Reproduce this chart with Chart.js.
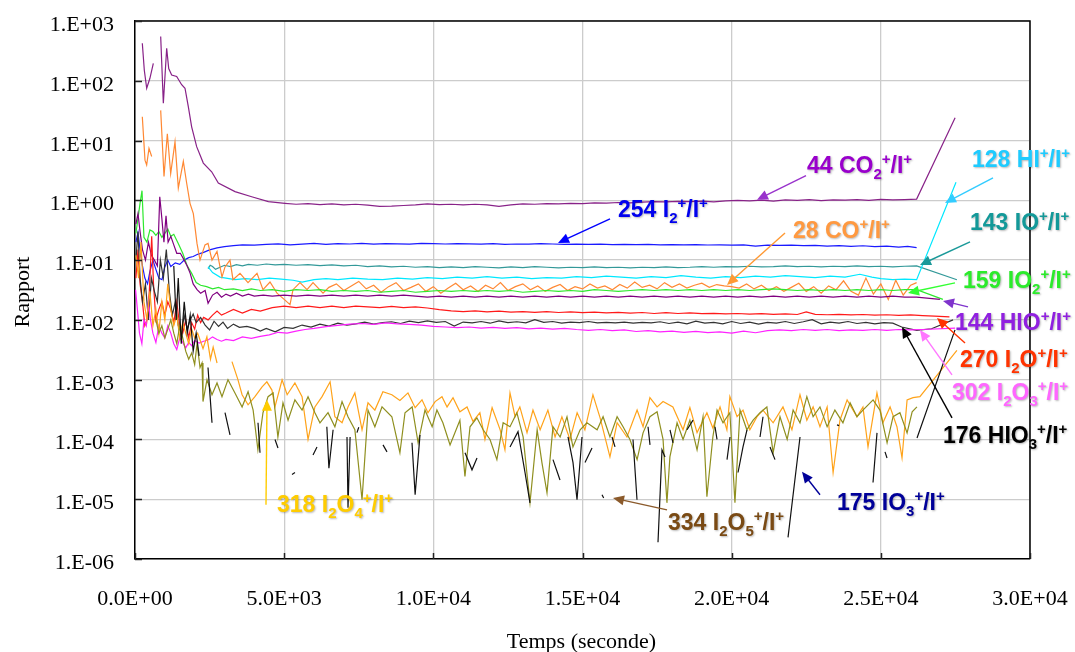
<!DOCTYPE html>
<html><head><meta charset="utf-8">
<script src="https://cdn.jsdelivr.net/npm/chart.js@4.4.1/dist/chart.umd.min.js"></script>
<style>html,body{margin:0;padding:0;background:#fff;overflow:hidden}</style>
</head><body>
<canvas id="c" width="1075" height="652"></canvas>
<script>
// ---------- axis ticks ----------
const xTicks = [0, 5000, 10000, 15000, 20000, 25000, 30000];
const xTickLabels = ['0.0E+00','5.0E+03','1.0E+04','1.5E+04','2.0E+04','2.5E+04','3.0E+04'];
const yTicks = [1e-6,1e-5,1e-4,1e-3,1e-2,1e-1,1,10,100,1000];
const yTickLabels = ['1.E-06','1.E-05','1.E-04','1.E-03','1.E-02','1.E-01','1.E+00','1.E+01','1.E+02','1.E+03'];
const xTitle = 'Temps (seconde)';
const yTitle = 'Rapport';

// ---------- series: [time (s), ratio] ----------
const co2 = [[245,424],[312,150],[392,75],[500,110],[614,196],[700,null],[861,550],[950,42],[1062,350],[1130,160],[1229,125],[1397,118],[1564,86],[1676,75],[1787,37],[1899,17],[2067,7.9],[2290,4.2],[2570,3.0],[2793,1.95],[3352,1.4],[3911,1.15],[4470,0.95],[5028,0.89],[5400,0.86],[5800,0.88],[6200,0.85],[6600,0.87],[7000,0.84],[7400,0.86],[7800,0.83],[8200,0.79],[8600,0.8],[9000,0.82],[9400,0.84],[9800,0.87],[10200,0.85],[10600,0.86],[11000,0.84],[11400,0.86],[11800,0.84],[12200,0.79],[12600,0.84],[13000,0.87],[13400,0.86],[13800,0.88],[14200,0.87],[14600,0.89],[15000,0.88],[15400,0.91],[15800,0.9],[16200,0.92],[16600,0.91],[17000,0.93],[17400,0.95],[17800,0.94],[18200,0.96],[18600,0.95],[19000,0.97],[19400,0.94],[19800,0.98],[20200,1.0],[20600,0.98],[21000,1.01],[21400,0.97],[21800,1.02],[22200,1.0],[22600,1.03],[23000,0.99],[23400,1.02],[23800,1.01],[24200,1.03],[24600,1.0],[25000,1.04],[25400,1.02],[25800,1.03],[26200,1.05],[27490,24]];

const i2 = [[30,0.2],[100,0.29],[170,0.15],[250,0.08],[330,0.05],[420,0.04],[500,0.065],[600,0.1],[700,0.07],[800,0.05],[905,0.047],[1000,0.077],[1100,0.1],[1200,0.078],[1350,0.09],[1500,0.085],[1650,0.1],[1800,0.11],[1950,0.115],[2100,0.125],[2300,0.135],[2500,0.148],[2750,0.16],[3000,0.168],[3300,0.175],[3600,0.18],[4000,0.178],[4400,0.183],[4800,0.187],[5200,0.18],[5600,0.185],[6000,0.19],[6400,0.184],[6800,0.188],[7200,0.186],[7600,0.19],[8000,0.185],[8400,0.189],[8800,0.187],[9200,0.185],[9600,0.19],[10000,0.188],[10400,0.186],[10800,0.189],[11200,0.187],[11600,0.185],[12000,0.188],[12400,0.184],[12800,0.186],[13200,0.185],[13600,0.188],[14000,0.186],[14400,0.184],[14800,0.185],[15200,0.183],[15600,0.185],[16000,0.182],[16400,0.184],[16800,0.181],[17200,0.183],[17600,0.18],[18000,0.182],[18400,0.18],[18800,0.181],[19200,0.179],[19600,0.18],[20000,0.178],[20400,0.18],[20800,0.172],[21200,0.178],[21600,0.176],[22000,0.178],[22400,0.175],[22800,0.177],[23200,0.172],[23600,0.175],[24000,0.17],[24400,0.174],[24800,0.168],[25200,0.172],[25600,0.165],[25900,0.17],[26200,0.162]];

const io = [[2450,0.072],[2520,0.082],[2600,0.078],[2700,0.07],[2850,0.076],[3000,0.082],[3200,0.078],[3400,0.084],[3600,0.08],[3800,0.085],[4100,0.082],[4400,0.086],[4700,0.083],[5000,0.085],[5400,0.082],[5800,0.084],[6200,0.081],[6600,0.083],[7000,0.08],[7400,0.082],[7800,0.078],[8200,0.08],[8600,0.077],[9000,0.079],[9400,0.076],[9800,0.078],[10200,0.075],[10600,0.077],[11000,0.075],[11400,0.078],[11800,0.076],[12200,0.074],[12600,0.077],[13000,0.075],[13400,0.078],[13800,0.076],[14200,0.074],[14600,0.076],[15000,0.075],[15400,0.077],[15800,0.075],[16200,0.076],[16600,0.074],[17000,0.076],[17400,0.075],[17800,0.077],[18200,0.075],[18600,0.076],[19000,0.078],[19400,0.076],[19800,0.078],[20200,0.077],[20600,0.079],[21000,0.077],[21400,0.078],[21800,0.08],[22200,0.078],[22600,0.079],[23000,0.077],[23400,0.079],[23800,0.078],[24200,0.08],[24600,0.078],[25000,0.079],[25400,0.077],[25800,0.079],[26200,0.08],[27550,0.047]];

const hi = [[2450,0.077],[2600,0.062],[2850,0.052],[3050,0.05],[3350,0.047],[3700,0.049],[4100,0.047],[4500,0.05],[4900,0.048],[5300,0.046],[5600,0.043],[6000,0.047],[6400,0.049],[6800,0.047],[7300,0.05],[7800,0.048],[8300,0.047],[8800,0.05],[9300,0.048],[9800,0.051],[10300,0.049],[10800,0.052],[11300,0.05],[11800,0.053],[12300,0.05],[12800,0.052],[13300,0.049],[13800,0.051],[14300,0.05],[14800,0.053],[15300,0.051],[15800,0.054],[16300,0.052],[16800,0.05],[17300,0.053],[17800,0.051],[18300,0.055],[18800,0.052],[19300,0.05],[19800,0.053],[20300,0.051],[20800,0.054],[21300,0.052],[21800,0.055],[22300,0.053],[22800,0.051],[23300,0.054],[23800,0.052],[24300,0.058],[24700,0.052],[25000,0.049],[25400,0.047],[25800,0.048],[26200,0.047],[27520,2.0]];

const io2 = [[30,0.28],[100,0.5],[170,0.9],[235,1.45],[300,0.24],[400,0.2],[500,0.32],[600,0.3],[700,0.26],[800,0.3],[900,0.24],[1000,0.28],[1100,0.33],[1200,0.25],[1300,0.27],[1450,0.19],[1600,0.13],[1750,0.08],[1900,0.06],[2050,0.042],[2200,0.038],[2400,0.036],[2600,0.033],[2800,0.035],[3000,0.032],[3300,0.033],[3600,0.031],[3900,0.033],[4200,0.031],[4600,0.032],[5000,0.03],[5400,0.032],[5800,0.031],[6200,0.032],[6600,0.03],[7000,0.031],[7400,0.03],[7800,0.031],[8200,0.029],[8600,0.03],[9000,0.031],[9400,0.029],[9800,0.03],[10200,0.031],[10600,0.03],[11000,0.031],[11400,0.03],[11800,0.031],[12200,0.03],[12600,0.031],[13000,0.029],[13400,0.03],[13800,0.031],[14200,0.03],[14600,0.031],[15000,0.03],[15400,0.032],[15800,0.031],[16200,0.03],[16600,0.031],[17000,0.032],[17400,0.031],[17800,0.032],[18200,0.031],[18600,0.032],[19000,0.031],[19400,0.032],[19800,0.031],[20200,0.032],[20600,0.031],[21000,0.032],[21400,0.033],[21800,0.032],[22200,0.031],[22600,0.032],[23000,0.031],[23400,0.032],[23800,0.031],[24200,0.032],[24600,0.031],[25000,0.032],[25400,0.031],[25800,0.032],[26200,0.032],[27080,0.022]];

const hio = [[30,0.4],[100,0.6],[170,0.3],[250,0.15],[350,0.1],[450,0.2],[550,0.12],[650,0.1],[750,0.08],[830,1.15],[900,0.5],[970,0.2],[1040,0.55],[1110,0.2],[1200,0.25],[1300,0.18],[1400,0.13],[1520,0.13],[1650,0.1],[1750,0.08],[1850,0.06],[1950,0.04],[2080,0.032],[2200,0.028],[2350,0.031],[2450,0.019],[2600,0.026],[2750,0.029],[2900,0.024],[3050,0.027],[3200,0.025],[3400,0.028],[3600,0.025],[3800,0.027],[4000,0.025],[4300,0.026],[4600,0.025],[5000,0.026],[5400,0.025],[5800,0.026],[6200,0.025],[6600,0.026],[7000,0.025],[7400,0.026],[7800,0.025],[8200,0.026],[8600,0.025],[9000,0.026],[9400,0.025],[9800,0.024],[10200,0.025],[10600,0.024],[11000,0.025],[11400,0.024],[11800,0.025],[12200,0.024],[12600,0.025],[13000,0.024],[13400,0.025],[13800,0.024],[14200,0.025],[14600,0.024],[15000,0.025],[15400,0.024],[15800,0.025],[16200,0.024],[16600,0.025],[17000,0.024],[17400,0.025],[17800,0.024],[18200,0.025],[18600,0.024],[19000,0.025],[19400,0.024],[19800,0.025],[20200,0.024],[20600,0.025],[21000,0.024],[21400,0.025],[21800,0.024],[22200,0.025],[22600,0.024],[23000,0.025],[23400,0.024],[23800,0.025],[24200,0.024],[24600,0.025],[25000,0.024],[25400,0.025],[25800,0.024],[26200,0.024],[26980,0.022]];

const i2o = [[30,0.05],[100,0.15],[170,0.04],[250,0.02],[330,0.008],[400,0.01],[480,0.03],[560,0.25],[620,0.04],[700,0.01],[800,0.015],[900,0.02],[1000,0.012],[1100,0.02],[1200,0.015],[1300,0.009],[1400,0.02],[1500,0.008],[1600,0.006],[1700,0.01],[1800,0.005],[1900,0.009],[2000,0.007],[2100,0.012],[2200,0.009],[2300,0.011],[2450,0.01],[2600,0.012],[2750,0.014],[2900,0.012],[3050,0.013],[3300,0.015],[3600,0.013],[3900,0.015],[4200,0.014],[4600,0.016],[5000,0.017],[5400,0.016],[5800,0.017],[6200,0.016],[6600,0.017],[7000,0.016],[7400,0.017],[7800,0.0165],[8200,0.016],[8600,0.0168],[9000,0.016],[9400,0.0165],[9800,0.0158],[10200,0.0148],[10600,0.0142],[11000,0.0138],[11400,0.0142],[11800,0.0136],[12200,0.014],[12600,0.0135],[13000,0.0138],[13400,0.0134],[13800,0.0137],[14200,0.0133],[14600,0.0136],[15000,0.0132],[15400,0.0135],[15800,0.0131],[16200,0.0134],[16600,0.013],[17000,0.0133],[17400,0.0128],[17800,0.0132],[18200,0.0128],[18600,0.0131],[19000,0.0127],[19400,0.0129],[19800,0.0126],[20200,0.0128],[20600,0.0125],[21000,0.0127],[21400,0.0124],[21800,0.0126],[22200,0.0123],[22500,0.0136],[22800,0.0124],[23200,0.0122],[23600,0.0124],[24000,0.0121],[24400,0.0123],[24800,0.012],[25200,0.0122],[25600,0.0119],[26000,0.0121],[26400,0.0118],[26800,0.0116],[27300,0.0112]];

const hio3 = [[30,0.1],[100,0.3],[170,0.05],[250,0.02],[350,0.04],[450,0.01],[550,0.05],[650,0.03],[750,0.02],[850,0.1],[950,0.05],[1050,0.15],[1150,0.03],[1250,0.012],[1350,0.02],[1450,0.008],[1550,0.006],[1650,0.012],[1750,0.007],[1850,0.01],[1950,0.0125],[2050,0.009],[2200,0.011],[2350,0.0082],[2500,0.0068],[2650,0.0095],[2800,0.0078],[2950,0.0092],[3100,0.0072],[3300,0.0085],[3500,0.0075],[3750,0.0078],[4000,0.0072],[4200,0.0065],[4400,0.0072],[4700,0.0063],[5000,0.0075],[5300,0.0072],[5600,0.0082],[5900,0.0076],[6200,0.0085],[6500,0.0079],[6800,0.0088],[7100,0.0082],[7400,0.0086],[7700,0.0092],[8000,0.0085],[8300,0.009],[8600,0.0093],[8900,0.0087],[9200,0.0095],[9500,0.009],[9800,0.0096],[10100,0.0091],[10400,0.0094],[10700,0.0079],[11000,0.0092],[11300,0.0089],[11600,0.0094],[11900,0.0088],[12200,0.0096],[12500,0.009],[12800,0.0093],[13100,0.0089],[13400,0.0101],[13700,0.0091],[14000,0.0094],[14300,0.0088],[14600,0.0092],[14900,0.009],[15200,0.0094],[15500,0.0089],[15800,0.0091],[16100,0.0089],[16400,0.0092],[16700,0.0088],[17000,0.0091],[17300,0.0089],[17600,0.0093],[17900,0.0087],[18200,0.0092],[18500,0.0086],[18800,0.0095],[19100,0.0088],[19400,0.0091],[19700,0.0086],[20000,0.0094],[20300,0.0087],[20600,0.0092],[20900,0.0085],[21200,0.0091],[21500,0.0088],[21800,0.0094],[22100,0.0087],[22400,0.0093],[22700,0.0101],[23000,0.0086],[23300,0.0092],[23600,0.0088],[23900,0.0094],[24200,0.0087],[24500,0.0091],[24800,0.0086],[25100,0.009],[25400,0.0088],[25700,0.0076],[26200,0.0067],[26700,0.0071],[27420,0.01]];

const i2o3 = [[20,0.032],[80,0.015],[150,0.006],[230,0.004],[300,0.01],[380,0.008],[450,0.02],[520,0.01],[600,0.006],[700,0.0042],[800,0.008],[900,0.006],[1000,0.005],[1100,0.008],[1200,0.006],[1300,0.004],[1400,0.0032],[1500,0.005],[1600,0.0042],[1700,0.0034],[1800,0.0042],[1900,0.0037],[2000,0.0045],[2150,0.0041],[2300,0.0044],[2450,0.0046],[2600,0.0052],[2750,0.0047],[2900,0.0044],[3050,0.0047],[3300,0.0045],[3600,0.0052],[3900,0.0049],[4200,0.0053],[4500,0.0056],[4800,0.0062],[5100,0.006],[5400,0.0065],[5700,0.0069],[6000,0.0072],[6400,0.0077],[6800,0.0081],[7200,0.0085],[7600,0.0087],[8000,0.0084],[8400,0.0089],[8800,0.0086],[9200,0.0084],[9600,0.0082],[10000,0.0078],[10400,0.0076],[10800,0.0074],[11200,0.0076],[11600,0.0073],[12000,0.0075],[12400,0.0072],[12800,0.0074],[13200,0.0071],[13600,0.0073],[14000,0.007],[14400,0.0072],[14800,0.0069],[15200,0.0067],[15600,0.0069],[16000,0.0066],[16400,0.0068],[16800,0.0064],[17200,0.0066],[17600,0.0063],[18000,0.0065],[18400,0.0062],[18800,0.0064],[19200,0.0061],[19600,0.0063],[20000,0.006],[20400,0.0065],[20800,0.0061],[21200,0.0066],[21600,0.0068],[22000,0.0066],[22400,0.0069],[22800,0.0067],[23200,0.0069],[23600,0.0066],[24000,0.0068],[24400,0.0067],[24800,0.0069],[25200,0.0067],[25600,0.0069],[26000,0.0068],[26400,0.0069],[27490,0.0073]];

const co = [[245,25],[335,4.7],[391,3.9],[469,7.4],[559,5.4],[700,null],[861,32],[972,2.5],[1084,13],[1196,2.8],[1341,9.5],[1452,1.6],[1620,4.5],[1731,1.95],[1844,0.89],[1955,0.6],[2078,0.19],[2179,0.1],[2346,0.18],[2447,0.19],[2581,0.1],[2749,0.14],[2916,0.052],[3017,0.077],[3184,0.1],[3285,0.047],[3520,0.06],[3788,0.042],[4090,0.06],[4291,0.032],[4525,0.043],[4760,0.028],[5000,0.022],[5196,0.018],[5296,0.032],[5531,0.042],[5766,0.032],[5967,0.042],[6302,0.028],[6500,0.035],[6750,0.04],[7000,0.031],[7250,0.037],[7500,0.044],[7750,0.033],[8000,0.038],[8250,0.029],[8500,0.036],[8750,0.042],[9000,0.031],[9250,0.035],[9500,0.04],[9750,0.03],[10000,0.036],[10250,0.028],[10500,0.034],[10750,0.041],[11000,0.032],[11250,0.037],[11500,0.03],[11750,0.038],[12000,0.033],[12250,0.042],[12500,0.031],[12750,0.036],[13000,0.04],[13250,0.032],[13500,0.037],[13750,0.03],[14000,0.035],[14250,0.039],[14500,0.031],[14750,0.036],[15000,0.033],[15250,0.04],[15500,0.034],[15750,0.037],[16000,0.032],[16250,0.039],[16500,0.034],[16750,0.043],[17000,0.035],[17250,0.038],[17500,0.033],[17750,0.042],[18000,0.035],[18250,0.04],[18500,0.034],[18750,0.038],[19000,0.041],[19250,0.035],[19500,0.039],[19750,0.037],[20000,0.036],[20250,0.034],[20500,0.04],[20750,0.033],[21000,0.038],[21250,0.031],[21500,0.036],[21750,0.03],[22000,0.035],[22250,0.041],[22500,0.03],[22750,0.036],[23000,0.028],[23250,0.037],[23500,0.032],[23750,0.045],[24000,0.03],[24250,0.026],[24500,0.05],[24750,0.027],[25000,0.04],[25250,0.022],[25500,0.046],[25750,0.026],[26000,0.038],[26200,0.042]];

const i2o4 = [[30,0.12],[120,0.05],[200,0.2],[300,0.02],[400,0.01],[500,0.03],[600,0.008],[700,0.015],[800,0.006],[900,0.02],[1000,0.01],[1100,0.04],[1200,0.015],[1300,0.008],[1400,0.012],[1500,0.005],[1600,0.009],[1700,0.006],[1800,0.004],[1900,0.007],[2000,0.005],[2100,0.006],[2180,0.0046],[2280,0.0033],[2410,0.0052],[2530,0.0022],[2620,0.0035],[2750,0.0019],[2850,null],[3250,0.002],[3450,0.001],[3590,0.00056],[3790,0.00038],[4020,0.00052],[4260,0.00076],[4420,0.00092],[4590,0.00067],[4690,0.00035],[4930,0.00099],[5100,0.00056],[5360,0.00088],[5600,0.00052],[5800,0.0001],[6030,0.00035],[6270,0.00052],[6540,0.00092],[6700,0.00024],[6940,0.00019],[7140,0.00035],[7370,0.0006],[7610,0.000145],[7810,0.00041],[8040,0.00031],[8310,0.00063],[8610,0.00056],[8880,0.00045],[9150,0.0006],[9390,0.00034],[9620,0.00046],[9820,0.00028],[10060,0.00043],[10290,0.00052],[10460,0.00035],[10660,0.0005],[10890,0.00029],[11130,0.00035],[11330,0.0002],[11560,0.00028],[11730,0.0001],[11970,0.00034],[12240,0.000145],[12400,0.000067],[12570,0.0006],[12740,0.00024],[12900,0.00035],[13140,0.00013],[13340,0.00031],[13580,0.000145],[13840,0.00031],[14080,0.00011],[14310,0.00024],[14580,0.0001],[14820,0.00028],[15080,0.000145],[15350,0.00056],[15590,0.00023],[15920,0.000051],[16160,0.00019],[16490,0.00011],[16830,0.00031],[17030,0.000163],[17260,0.0005],[17500,0.00035],[17700,0.00043],[18030,0.00035],[18370,0.000145],[18600,0.00034],[18840,0.00013],[19170,0.00028],[19370,0.000156],[19610,0.00035],[19840,0.000145],[19940,0.00052],[20180,0.00024],[20380,0.00031],[20610,0.000145],[20850,0.00024],[21050,0.00031],[21390,0.00019],[21720,0.00035],[22020,0.000145],[22290,0.00056],[22520,0.00021],[22730,0.00035],[22960,0.000163],[23200,0.00035],[23400,0.000028],[23630,0.00021],[23870,0.00046],[24200,0.00024],[24400,0.00035],[24570,0.000075],[24870,0.0006],[25070,0.00019],[25310,0.00035],[25540,0.000163],[25710,0.000049],[25880,0.00046],[26080,0.0005],[26310,0.00052],[27550,0.0031]];

const i2o5 = [[700,0.01],[800,0.006],[900,0.008],[1000,0.005],[1100,0.007],[1200,0.01],[1300,0.006],[1400,0.004],[1500,0.008],[1600,0.005],[1700,0.003],[1800,0.0022],[1900,0.0028],[2000,0.0018],[2080,0.004],[2180,0.0016],[2246,0.0019],[2279,0.00043],[2413,0.001],[2581,0.00056],[2749,0.00088],[2916,0.00052],[3117,0.001],[3350,0.0006],[3590,0.00035],[3790,0.00063],[3960,0.00031],[4120,0.000067],[4290,0.00028],[4460,0.00052],[4630,0.0006],[4790,0.00011],[4960,0.00041],[5130,0.00021],[5360,0.00046],[5600,0.00031],[5800,0.00052],[6030,0.00028],[6200,0.00019],[6470,0.00028],[6700,0.000163],[6940,0.00043],[7140,0.00024],[7370,0.000145],[7610,0.0000098],[7810,0.00031],[8040,0.000163],[8280,0.00035],[8610,0.00024],[8880,0.00006],[9050,0.00028],[9290,0.00035],[9490,0.000088],[9720,0.00031],[9960,0.000163],[10120,0.00031],[10320,0.00019],[10560,0.000081],[10890,0.00021],[11060,0.000024],[11230,0.000163],[11460,0.00023],[11670,0.000145],[11900,0.0001],[12130,0.000046],[12340,0.00019],[12570,0.000163],[12800,0.00028],[13010,0.00011],[13240,0.0000087],[13480,0.000145],[13640,0.000041],[13810,0.0000128],[14010,0.000163],[14250,0.00011],[14480,0.00024],[14680,0.000075],[14920,0.000145],[15150,0.00019],[15490,0.000145],[15690,0.00024],[15920,0.00011],[16160,0.00024],[16360,0.000163],[16590,0.0001],[16830,0.000046],[17030,0.000129],[17260,0.00024],[17500,0.00029],[17700,0.0001],[17830,0.0000087],[17930,0.000051],[18170,0.00019],[18370,0.0001],[18600,0.00021],[18840,0.000067],[19040,0.00024],[19170,0.000011],[19370,0.00011],[19510,0.00031],[19710,0.00019],[19940,0.00028],[20110,0.0000087],[20280,0.00031],[20510,0.000145],[20720,0.00021],[20950,0.00028],[21180,0.00035],[21390,0.00006],[21620,0.00024],[21860,0.0001],[22060,0.00031],[22290,0.00019],[22520,0.00052],[22730,0.00024],[22960,0.00035],[23200,0.000163],[23460,0.00031],[23730,0.00019],[23970,0.00041],[24200,0.00024],[24400,0.00031],[24740,0.00046],[24970,0.00031],[25210,0.000088],[25410,0.00024],[25640,0.00028],[25880,0.000129],[26050,0.00029],[26210,0.00035]];

const io3 = [[1300,0.08],[1380,0.01],[1450,0.05],[1550,0.004],[1650,0.02],[1750,0.006],[1850,0.012],[1950,0.003],[2050,0.006],[2150,0.0025],[2300,null],
[2447,0.0016],[2581,0.00019],[2800,null],
[3017,0.00028],[3184,0.000119],[3600,null],
[4123,0.00019],[4190,0.00006],[4400,null],
[4693,0.0001],[4793,0.000072],[5000,null],
[5263,0.000026],[5363,0.000028],[5600,null],
[5967,0.000055],[6100,0.000075],[6300,null],
[6430,0.000163],[6500,0.000033],[6640,0.000145],[6900,null],
[7106,0.00011],[7140,0.0000072],[7210,0.00011],[7300,null],
[7440,0.00013],[7500,0.00016],[7900,null],
[8313,0.000081],[8447,0.000062],[9000,null],
[9285,0.000088],[9390,0.0000119],[9553,0.000119],[10500,null],
[11062,0.00006],[11296,0.000031],[11464,0.000049],[12000,null],
[12570,0.000075],[12838,0.000135],[13073,0.000028],[13240,0.0000087],[13600,null],
[14011,0.000046],[14246,0.000021],[14400,null],
[14514,0.00011],[14682,0.000041],[14816,0.0000098],[14983,0.00011],[15030,null],
[15084,0.000041],[15319,0.000072],[15500,null],
[15654,0.0000119],[15710,0.0000105],[15850,null],
[15989,0.00011],[16090,0.000075],[16400,null],
[16693,0.0001],[16827,0.0000098],[17000,null],
[17196,0.000163],[17263,0.000081],[17400,null],
[17531,0.0000019],[17665,0.000067],[17766,0.000051],[17850,null],
[17933,0.000145],[18034,0.000088],[18300,null],
[18503,0.000145],[18704,0.00021],[19000,null],
[19442,0.000163],[19509,0.0001],[19700,null],
[19844,0.000046],[19944,0.00011],[20100,null],
[20213,0.000028],[20380,0.000075],[20514,0.000145],[20700,null],
[20950,0.00011],[21051,0.00024],[21150,null],
[21285,0.000075],[21453,0.000046],[21700,null],
[21889,0.0000023],[22291,0.00011],[22800,null],
[23531,0.000175],[23600,0.00017],[24000,null],
[24738,0.000019],[24872,0.000129],[25000,null],
[25140,0.000062],[25207,0.000049],[25600,null],
[26213,0.000106],[27486,0.0068]];

// ---------- line styles ----------
const lineStyles = [
  {data: io3,  color: '#111111'},
  {data: i2o5, color: '#8F8F1F'},
  {data: i2o4, color: '#FFA31A'},
  {data: i2o3, color: '#FF22FF'},
  {data: hio3, color: '#333333'},
  {data: i2o,  color: '#FF1A1A'},
  {data: hio,  color: '#800080'},
  {data: io2,  color: '#2EE82E'},
  {data: co,   color: '#FF8833'},
  {data: hi,   color: '#00E8FF'},
  {data: io,   color: '#339999'},
  {data: i2,   color: '#1A1AFF'},
  {data: co2,  color: '#882288'}
];

// ---------- annotations (data space) ----------
const notes = [
  {parts:[['44 CO'],['2','sub'],['+','sup'],['/I'],['+','sup']], color:'#9900CC', at:[22525,2.87], tail:[22492,2.6], head:[20849,1.02], arrow:'#9933CC'},
  {parts:[['128 HI'],['+','sup'],['/I'],['+','sup']], color:'#1ECBFF', at:[28056,3.62], tail:[28760,2.37], head:[27151,0.906], arrow:'#33CCFF'},
  {parts:[['254 I'],['2','sub'],['+','sup'],['/I'],['+','sup']], color:'#0000EE', at:[16190,0.527], tail:[15922,0.489], head:[14179,0.194], arrow:'#0000FF'},
  {parts:[['28 CO'],['+','sup'],['/I'],['+','sup']], color:'#FF9940', at:[22056,0.235], tail:[21788,0.285], head:[19844,0.0385], arrow:'#FF9933'},
  {parts:[['143 IO'],['+','sup'],['/I'],['+','sup']], color:'#139999', at:[27989,0.32], tail:[27989,0.201], head:[26313,0.0831], arrow:'#1A9999'},
  {parts:[['159 IO'],['2','sub'],['+','sup'],['/I'],['+','sup']], color:'#2BEB2B', at:[27755,0.0343], tail:[27486,0.0416], head:[25911,0.0283], arrow:'#33FF33'},
  {parts:[['144 HIO'],['+','sup'],['/I'],['+','sup']], color:'#9020E0', at:[27486,0.0068], tail:[27922,0.0165], head:[27084,0.0208], arrow:'#7F33CC'},
  {parts:[['270 I'],['2','sub'],['O'],['+','sup'],['/I'],['+','sup']], color:'#FF3300', at:[27654,0.00164], tail:[27822,0.0041], head:[26883,0.0108], arrow:'#FF3300'},
  {parts:[['302 I'],['2','sub'],['O'],['3','sub'],['+','sup'],['/I'],['+','sup']], color:'#FF66FF', at:[27386,0.00046], tail:[27386,0.0012], head:[26313,0.0068], arrow:'#FF77FF'},
  {parts:[['176 HIO'],['3','sub'],['+','sup'],['/I'],['+','sup']], color:'#000000', at:[27084,0.000088], tail:[27386,0.00023], head:[25710,0.0076], arrow:'#000000'},
  {parts:[['175 IO'],['3','sub'],['+','sup'],['/I'],['+','sup']], color:'#000099', at:[23531,0.00000665], tail:[22961,0.0000119], head:[22358,0.0000287], arrow:'#000099'},
  {parts:[['334 I'],['2','sub'],['O'],['5','sub'],['+','sup'],['/I'],['+','sup']], color:'#7A4A14', at:[17866,0.0000031], tail:[17833,0.00000665], head:[16023,0.0000105], arrow:'#8B5A2B'},
  {parts:[['318 I'],['2','sub'],['O'],['4','sub'],['+','sup'],['/I'],['+','sup']], color:'#FFCC00', at:[4760,0.00000615], tail:[4391,0.00000805], head:[4425,0.00046], arrow:'#FFCC00'}
];

const toPts = arr => arr.map(p => ({x: p[0], y: p[1]}));

const BIG = '700 23px "Liberation Sans", Arial, sans-serif';
const SMALL = '700 15px "Liberation Sans", Arial, sans-serif';
function drawRich(ctx, parts, x, y) {
  let cx = x;
  for (const p of parts) {
    const t = p[0], k = p[1];
    ctx.font = (k === 'sub' || k === 'sup') ? SMALL : BIG;
    const dy = k === 'sub' ? 6 : (k === 'sup' ? -9 : 0);
    ctx.fillText(t, cx, y + dy);
    cx += ctx.measureText(t).width;
  }
}
function arrow(ctx, x1, y1, x2, y2, color) {
  const ang = Math.atan2(y2 - y1, x2 - x1);
  const L = 11, W = 5;
  ctx.strokeStyle = color; ctx.fillStyle = color; ctx.lineWidth = 1.4;
  ctx.beginPath(); ctx.moveTo(x1, y1);
  ctx.lineTo(x2 - Math.cos(ang) * L * 0.8, y2 - Math.sin(ang) * L * 0.8); ctx.stroke();
  ctx.beginPath();
  ctx.moveTo(x2, y2);
  ctx.lineTo(x2 - Math.cos(ang) * L - Math.sin(ang) * W, y2 - Math.sin(ang) * L + Math.cos(ang) * W);
  ctx.lineTo(x2 - Math.cos(ang) * L + Math.sin(ang) * W, y2 - Math.sin(ang) * L - Math.cos(ang) * W);
  ctx.closePath(); ctx.fill();
}

const decor = {
  id: 'decor',
  beforeDraw(chart) {
    const ctx = chart.ctx;
    ctx.save(); ctx.fillStyle = '#fff'; ctx.fillRect(0, 0, chart.width, chart.height); ctx.restore();
  },
  afterDraw(chart) {
    const ctx = chart.ctx, ca = chart.chartArea;
    const xs = chart.scales.x, ys = chart.scales.y;
    ctx.save();
    // top & right border
    ctx.strokeStyle = '#000'; ctx.lineWidth = 1.5;
    ctx.beginPath(); ctx.moveTo(ca.left, ca.top); ctx.lineTo(ca.right, ca.top); ctx.lineTo(ca.right, ca.bottom); ctx.stroke();
    // inward ticks
    ctx.lineWidth = 1.5; ctx.strokeStyle = '#222';
    yTicks.forEach(v => { const p = Math.round(ys.getPixelForValue(v)) + 0.5; ctx.beginPath(); ctx.moveTo(ca.left, p); ctx.lineTo(ca.left + 7, p); ctx.stroke(); });
    xTicks.forEach(v => { const p = Math.round(xs.getPixelForValue(v)) + 0.5; ctx.beginPath(); ctx.moveTo(p, ca.bottom); ctx.lineTo(p, ca.bottom - 6); ctx.stroke(); });
    // tick labels
    ctx.fillStyle = '#000';
    ctx.font = '22px "Liberation Serif", "Times New Roman", serif';
    ctx.textBaseline = 'alphabetic';
    ctx.textAlign = 'right';
    yTicks.forEach((v, i) => ctx.fillText(yTickLabels[i], ca.left - 21, ys.getPixelForValue(v) + 10));
    ctx.textAlign = 'center';
    xTicks.forEach((v, i) => ctx.fillText(xTickLabels[i], xs.getPixelForValue(v), ca.bottom + 46));
    // axis titles
    ctx.fillText(xTitle, (ca.left + ca.right) / 2 - 1, 648);
    ctx.save(); ctx.translate(29, 292); ctx.rotate(-Math.PI / 2); ctx.fillText(yTitle, 0, 0); ctx.restore();
    // annotations
    notes.forEach(n => {
      const tx = xs.getPixelForValue(n.tail[0]), ty = ys.getPixelForValue(n.tail[1]);
      const hx = xs.getPixelForValue(n.head[0]), hy = ys.getPixelForValue(n.head[1]);
      arrow(ctx, tx, ty, hx, hy, n.arrow);
    });
    ctx.textAlign = 'left';
    notes.forEach(n => {
      ctx.save();
      ctx.shadowColor = 'rgba(0,0,0,0.28)'; ctx.shadowOffsetX = 1; ctx.shadowOffsetY = 1; ctx.shadowBlur = 2;
      ctx.fillStyle = n.color;
      drawRich(ctx, n.parts, xs.getPixelForValue(n.at[0]), ys.getPixelForValue(n.at[1]));
      ctx.restore();
    });
    ctx.restore();
  }
};

new Chart(document.getElementById('c'), {
  type: 'line',
  data: {
    datasets: lineStyles.map(s => ({
      data: toPts(s.data), borderColor: s.color, backgroundColor: s.color,
      borderWidth: 1.2, pointRadius: 0, tension: 0, spanGaps: false, fill: false
    }))
  },
  options: {
    responsive: false, animation: false, devicePixelRatio: 1,
    layout: {padding: {left: 0, top: 21, right: 45, bottom: 0}},
    plugins: {legend: {display: false}, tooltip: {enabled: false}},
    events: [],
    scales: {
      x: {
        type: 'linear', min: 0, max: 30000,
        afterBuildTicks: s => { s.ticks = xTicks.map(v => ({value: v})); },
        afterFit: s => { s.height = 93; },
        ticks: {display: false},
        grid: {color: '#CCCCCC', lineWidth: 1.3, drawTicks: false},
        border: {display: true, color: '#000', width: 1.5}
      },
      y: {
        type: 'logarithmic', min: 1e-6, max: 1e3,
        afterBuildTicks: s => { s.ticks = yTicks.map(v => ({value: v})); },
        afterFit: s => { s.width = 135; },
        ticks: {display: false},
        grid: {color: '#CCCCCC', lineWidth: 1.3, drawTicks: false},
        border: {display: true, color: '#000', width: 1.5}
      }
    }
  },
  plugins: [decor]
});
</script>
</body></html>
